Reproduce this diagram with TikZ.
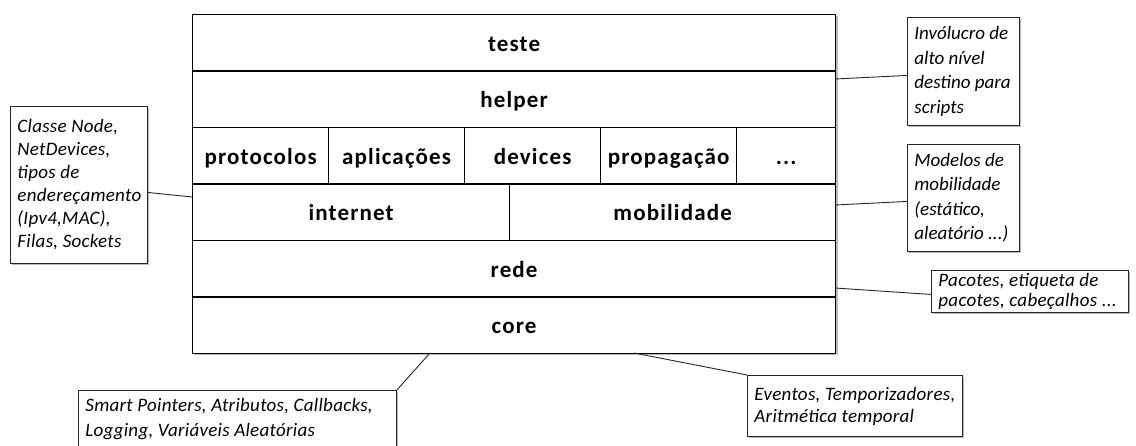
\documentclass[tikz,border=0pt]{standalone}
\usepackage{fontspec}
\setmainfont{Carlito}
\newfontfamily\cellfont[LetterSpace=5]{Carlito}
\newfontfamily\notefont[LetterSpace=1.5]{Carlito}
\usetikzlibrary{calc,shadows}

\tikzset{
  cell/.style={draw=black, line width=1.3pt, fill=white, anchor=north west,
    inner sep=0pt, text height=21pt, text depth=4.5pt,
    font=\fontsize{23}{26}\cellfont\bfseries},
  callout/.style={draw=black!85, line width=0.9pt, fill=white, anchor=north west,
    inner xsep=7pt, inner ysep=0pt, align=flush left,
    font=\fontsize{19}{23}\notefont\itshape,
    drop shadow={shadow xshift=2pt, shadow yshift=-2pt, fill=black!45, opacity=0.6}},
  narrownote/.style={font=\fontsize{19}{24.5}\selectfont\itshape},
  link/.style={draw=black!85, line width=0.9pt},
  boxshadow/.style={fill=black!45, opacity=0.6}
}

\begin{document}
\begin{tikzpicture}[x=1pt, y=-1pt]
  \useasboundingbox (0,0) rectangle (1136,446);

  % shadow under the layer stack
  \fill[boxshadow] (194.5,16.5) rectangle (837.5,355.5);

  % layers, top to bottom
  \node[cell, minimum width=643pt, minimum height=56.5pt] (teste) at (192,14) {teste};
  \node[cell, minimum width=643pt, minimum height=56.5pt] (helper) at (192,70.5) {helper};
  \node[cell, minimum width=136pt, minimum height=56.5pt] (protocolos) at (192,127) {protocolos};
  \node[cell, minimum width=136pt, minimum height=56.5pt] (aplicacoes) at (328,127) {aplicações};
  \node[cell, minimum width=136pt, minimum height=56.5pt] (devices) at (464,127) {devices};
  \node[cell, minimum width=136pt, minimum height=56.5pt] (propagacao) at (600,127) {propagação};
  \node[cell, minimum width=99pt, minimum height=56.5pt] (outros) at (736,127) {...};
  \node[cell, minimum width=317pt, minimum height=56.5pt] (internet) at (192,183.5) {internet};
  \node[cell, minimum width=326pt, minimum height=56.5pt] (mobilidade) at (509,183.5) {mobilidade};
  \node[cell, minimum width=643pt, minimum height=56.5pt] (rede) at (192,240) {rede};
  \node[cell, minimum width=643pt, minimum height=56.5pt] (core) at (192,296.5) {core};

  % explanatory notes
  \node[callout, narrownote, minimum width=112pt, minimum height=108pt, text width=98pt] (nhelper) at (907,17)
    {Invólucro de\\alto nível\\destino para\\scripts};
  \node[callout, narrownote, minimum width=112pt, minimum height=107pt, text width=98pt] (nmob) at (907,144)
    {Modelos de\\mobilidade\\(estático,\\aleatório ...)};
  \node[callout, minimum width=197pt, minimum height=42pt, text width=183pt,
        font=\fontsize{19}{20.5}\notefont\itshape] (nrede) at (931,270)
    {Pacotes, etiqueta de\\pacotes, cabeçalhos ...};
  \node[callout, minimum width=137pt, minimum height=157pt, text width=123pt] (ninternet) at (10,106)
    {Classe Node,\\NetDevices,\\tipos de\\endereçamento\\(Ipv4,MAC),\\Filas, Sockets};
  \node[callout, minimum width=215pt, minimum height=61pt, text width=201pt,
        font=\fontsize{19}{22}\notefont\itshape] (neventos) at (747,375)
    {Eventos, Temporizadores,\\Aritmética temporal};
  \node[callout, minimum width=318pt, minimum height=57pt, text width=304pt,
        font=\fontsize{19}{24.5}\notefont\itshape] (ncore) at (78,390)
    {Smart Pointers, Atributos, Callbacks,\\Logging, Variáveis Aleatórias};

  % points where the notes touch the stack
  \coordinate (phelper) at (835,79);
  \coordinate (pmob) at (835,205);
  \coordinate (prede) at (835,288);
  \coordinate (pinternet) at (192,197);
  \coordinate (pcoreA) at (430,353);
  \coordinate (pcoreB) at (634,353);

  \draw[link] ($(nhelper.west)+(0,4)$) -- (phelper);
  \draw[link] ($(nmob.west)+(0,3.5)$) -- (pmob);
  \draw[link] ($(nrede.west)+(0,3)$) -- (prede);
  \draw[link] ($(ninternet.east)+(0,7.5)$) -- (pinternet);
  \draw[link] (ncore.north east) -- (pcoreA);
  \draw[link] (neventos.north west) -- (pcoreB);
\end{tikzpicture}
\end{document}
